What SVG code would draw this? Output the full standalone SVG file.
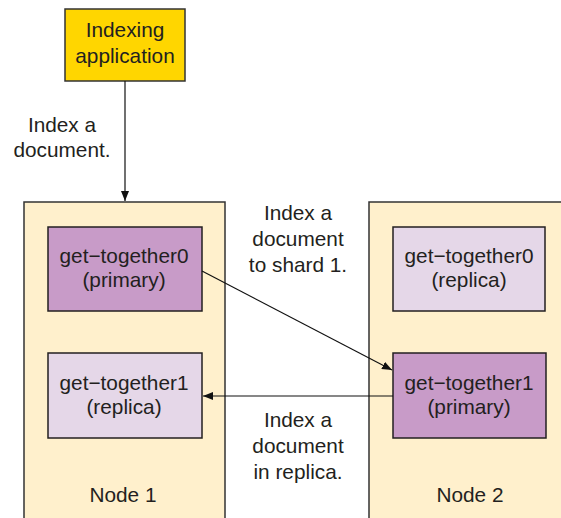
<svg xmlns="http://www.w3.org/2000/svg" width="561" height="518" viewBox="0 0 561 518">
<defs>
<style>
text{font-family:"Liberation Sans",Arial,sans-serif;font-size:20.8px;fill:#231f20;text-anchor:middle}
.node{fill:#fff0cc;stroke:#333;stroke-width:1.5}
.app{fill:#ffd600;stroke:#333;stroke-width:1.5}
.pri{fill:#c89bc8;stroke:#231f20;stroke-width:1.5}
.rep{fill:#e5d7e8;stroke:#231f20;stroke-width:1.5}
.conn{fill:none;stroke:#111;stroke-width:1.2}
</style>
<marker id="ah" viewBox="0 0 10 8" refX="10" refY="4" markerWidth="10" markerHeight="8" markerUnits="userSpaceOnUse" orient="auto">
<path d="M0,0 L10,4 L0,8 Z" fill="#111"/>
</marker>
</defs>
<rect width="561" height="518" fill="#fff"/>
<g id="node1">
<rect class="node" x="24" y="202" width="201" height="330"/>
<text x="123" y="502">Node 1</text>
</g>
<g id="node2">
<rect class="node" x="369" y="202" width="210" height="330"/>
<text x="470" y="502">Node 2</text>
</g>
<g id="indexing-app">
<rect class="app" x="65" y="9" width="120" height="72"/>
<text x="125" y="37">Indexing</text>
<text x="125" y="63">application</text>
</g>
<g id="gt0-primary">
<rect class="pri" x="48" y="227" width="154" height="84"/>
<text x="124" y="263">get−together0</text>
<text x="124" y="287">(primary)</text>
</g>
<g id="gt1-replica">
<rect class="rep" x="48" y="353" width="154" height="85"/>
<text x="124" y="390">get−together1</text>
<text x="124" y="414">(replica)</text>
</g>
<g id="gt0-replica">
<rect class="rep" x="393" y="227" width="152" height="84"/>
<text x="469" y="263">get−together0</text>
<text x="469" y="287">(replica)</text>
</g>
<g id="gt1-primary">
<rect class="pri" x="393" y="353" width="153" height="85"/>
<text x="469" y="390">get−together1</text>
<text x="469" y="414">(primary)</text>
</g>
<g id="connectors">
<line class="conn" x1="125" y1="81" x2="125" y2="201" marker-end="url(#ah)"/>
<line class="conn" x1="202" y1="271" x2="392" y2="370" marker-end="url(#ah)"/>
<line class="conn" x1="393" y1="396" x2="203" y2="396" stroke="#444" stroke-width="1.6" marker-end="url(#ah)"/>
</g>
<g id="labels">
<text x="62" y="132">Index a</text>
<text x="62" y="157">document.</text>
<text x="298" y="220">Index a</text>
<text x="298" y="246">document</text>
<text x="298" y="272">to shard 1.</text>
<text x="298" y="427">Index a</text>
<text x="298" y="453">document</text>
<text x="298" y="479">in replica.</text>
</g>
</svg>
